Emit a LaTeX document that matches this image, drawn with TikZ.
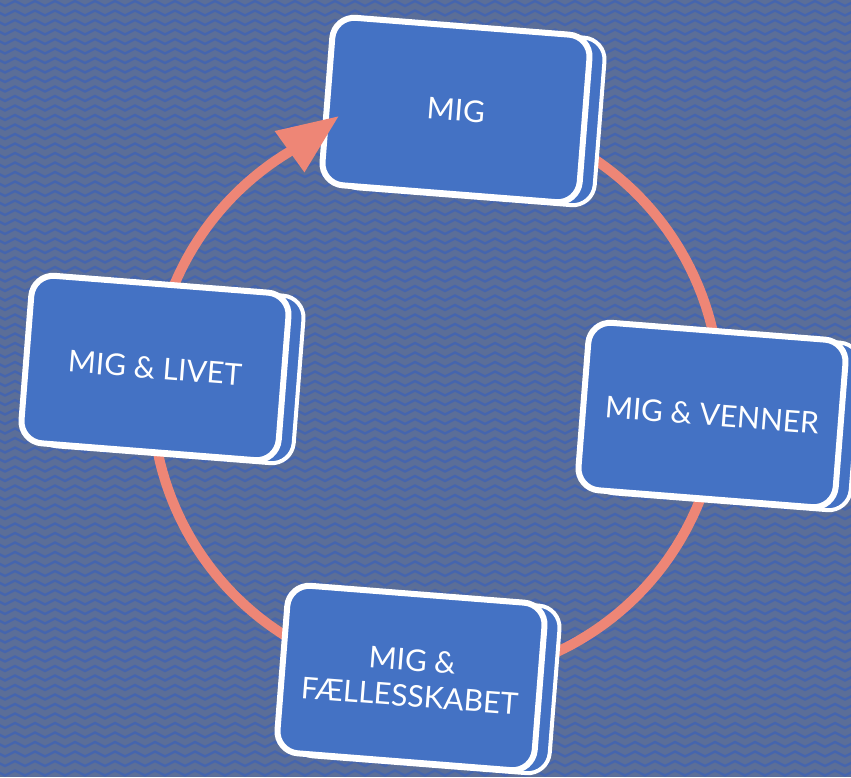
\documentclass[tikz,border=0pt]{standalone}
\usepackage{fontspec}
\setmainfont{Lato}
\usetikzlibrary{arrows.meta,shadows,decorations.pathmorphing}
\definecolor{backdrop}{HTML}{5B6E98}
\definecolor{wave}{HTML}{4565AE}
\definecolor{cardblue}{HTML}{4472C4}
\definecolor{salmon}{HTML}{EE8676}

\begin{document}
\begin{tikzpicture}[x=1pt, y=1pt,
    card/.style={draw=white, line width=6pt, fill=cardblue, rounded corners=22pt,
        minimum width=258pt, minimum height=168pt, rotate=-4.5, text=white,
        align=center, font=\fontsize{30}{36}\selectfont,
        copy shadow={shadow xshift=15pt, shadow yshift=-3pt, line width=4pt}},
    ring/.style={draw=salmon, line width=10pt},
    wavy/.style={draw=wave, line width=2.4pt, decorate,
        decoration={zigzag, segment length=20pt, amplitude=2.5pt}}]
    \useasboundingbox (0, 0) rectangle (851, 777);
    \fill[backdrop] (0, 0) rectangle (851, 777);
    \foreach \yy in {4, 13.5, ..., 785}
        \draw[wavy] (-10, \yy) -- (870, \yy);

    % the cycle behind the cards
    \coordinate (hub) at (436, 382);
    \coordinate (to-mig) at (339, 661);
    \path (hub) ++(170:284) coordinate (from-livet)
          (hub) ++(65:284) coordinate (from-mig);
    \draw[ring] (from-mig) arc[start angle=65, end angle=-190, radius=284];

    \node[card] at (456, 667) (mig) {MIG};
    % the arrow tip lies over the MIG card
    \draw[ring, -{Triangle[width=48pt, length=61pt]}]
        (from-livet) arc[start angle=170, end angle=121, radius=284] -- (to-mig);
    \node[card] at (155, 409) (livet) {MIG \& LIVET};
    \node[card] at (712, 362) (venner) {MIG \& VENNER};
    \node[card] at (411, 99) (faelles) {MIG \&\\FÆLLESSKABET};
\end{tikzpicture}
\end{document}
